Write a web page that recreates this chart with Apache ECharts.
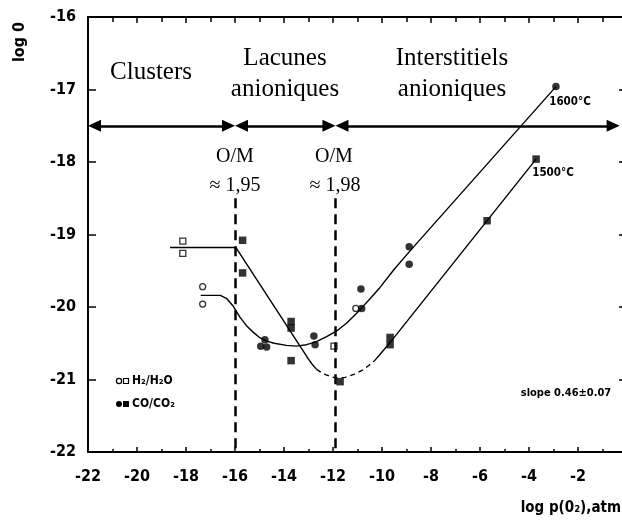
<!DOCTYPE html>
<html><head><meta charset="utf-8">
<script src="https://cdn.jsdelivr.net/npm/echarts/dist/echarts.min.js"></script>
<style>html,body{margin:0;padding:0;background:#fff}#c{width:622px;height:520px}</style>
</head><body><div id="c"></div>
<script>
// ---- data ----
const xMin = -22, xMax = 0, yMin = -22, yMax = -16;
const curve1500SolidA = [[-18.65,-19.18],[-15.96,-19.18],[-13.0,-20.72],[-12.85,-20.79],[-12.67,-20.86]];
const curve1500Dashed = [[-12.67,-20.86],[-12.4,-20.92],[-12.1,-20.96],[-11.85,-20.98],[-11.5,-20.97],[-11.15,-20.93],[-10.8,-20.87],[-10.55,-20.81],[-10.3,-20.74]];
const curve1500SolidB = [[-10.3,-20.74],[-10.0,-20.62],[-9.6,-20.46],[-3.71,-17.96]];
const curve1600 = [[-17.4,-19.84],[-16.6,-19.84],[-16.35,-19.88],[-16.07,-19.99],[-15.8,-20.14],[-15.5,-20.27],[-15.25,-20.35],[-15.0,-20.42],[-14.71,-20.47],[-14.4,-20.5],[-13.9,-20.53],[-13.5,-20.54],[-13.08,-20.52],[-12.7,-20.48],[-12.26,-20.41],[-11.85,-20.33],[-11.44,-20.22],[-10.9,-20.04],[-10.5,-19.89],[-10.08,-19.73],[-9.5,-19.48],[-8.89,-19.24],[-2.9,-16.96]];
const h2OpenCircles = [[-17.32,-19.72],[-17.32,-19.96],[-11.07,-20.02]];
const h2OpenSquares = [[-18.13,-19.09],[-18.13,-19.26],[-11.96,-20.54]];
const coFilledCircles = [[-14.78,-20.45],[-14.95,-20.54],[-14.71,-20.55],[-12.78,-20.40],[-12.73,-20.52],[-10.83,-20.02],[-10.86,-19.75],[-8.89,-19.17],[-8.89,-19.41],[-2.9,-16.96]];
const coFilledSquares = [[-15.69,-19.08],[-15.69,-19.53],[-13.71,-20.20],[-13.71,-20.29],[-13.71,-20.74],[-11.71,-21.03],[-9.67,-20.42],[-9.67,-20.52],[-5.71,-18.81],[-3.71,-17.96]];
const regionSpans = [[-22,-16],[-16,-11.9],[-11.9,-0.3]];
const regionArrowY = -17.5;
const omBoundaries = [-16, -11.9];
const omTopY = -18.5;
const regionLabels = ['Clusters', 'Lacunes\nanioniques', 'Interstitiels\nanioniques'];
const omLabels = ['O/M', '≈ 1,95', 'O/M', '≈ 1,98'];
const curveLabels = ['1600°C', '1500°C'];
const legendLabels = ['H₂/H₂O', 'CO/CO₂'];
const xTitle = 'log p(0₂),atm';
const yTitle = 'log 0';
const slopeText = 'slope 0.46±0.07';

// ---- layout ----
const G = {left: 88, top: 17, right: -5, bottom: 68};
const pxPerX = (622 - G.left - G.right) / (xMax - xMin);
const headLen = 13;
const halfHead = headLen / 2 / pxPerX;
const cond = '"DejaVu Sans Condensed", "DejaVu Sans", sans-serif';
const serif = '"Liberation Serif", "Times New Roman", serif';
const K = '#000';

const chart = echarts.init(document.getElementById('c'), null, {renderer: 'canvas'});

const arrowData = regionSpans.map(s => [
  {coord: [s[0] + halfHead, regionArrowY]},
  {coord: [s[1] - halfHead, regionArrowY]}
]);
const dashData = omBoundaries.map(x => [{coord: [x, omTopY]}, {coord: [x, yMin]}]);

function txt(text, x, y, size, family, opts) {
  return Object.assign({
    type: 'text', x: x, y: y, silent: true,
    style: Object.assign({text: text, fontSize: size, fontFamily: family, fill: K,
      align: 'center', verticalAlign: 'middle', textAlign: 'center', textVerticalAlign: 'middle'}, (opts && opts.style) || {})
  }, (opts && opts.el) || {});
}

const graphics = [
  txt(regionLabels[0], 151, 72.5, 25, serif),
  txt(regionLabels[1], 285, 73.5, 25, serif, {style: {lineHeight: 31}}),
  txt(regionLabels[2], 452, 73.5, 25, serif, {style: {lineHeight: 31}}),
  txt(omLabels[0], 235, 157, 20, serif),
  txt(omLabels[1], 235, 186, 20, serif),
  txt(omLabels[2], 334, 157, 20, serif),
  txt(omLabels[3], 335, 186, 20, serif),
  txt(curveLabels[0], 570, 102, 11.5, cond, {style: {fontWeight: 'bold'}}),
  txt(curveLabels[1], 553, 173, 11.5, cond, {style: {fontWeight: 'bold'}}),
  txt(slopeText, 566, 393, 11, cond, {style: {fontWeight: 'bold'}}),
  txt(xTitle, 621, 508, 15, cond, {style: {fontWeight: 'bold', align: 'right', textAlign: 'right'}}),
  txt(yTitle, 20, 42, 16, cond, {style: {fontWeight: 'bold'}, el: {rotation: Math.PI / 2}}),
  txt(legendLabels[0], 132, 381, 12, cond, {style: {fontWeight: 'bold', align: 'left', textAlign: 'left'}}),
  txt(legendLabels[1], 132, 404, 12, cond, {style: {fontWeight: 'bold', align: 'left', textAlign: 'left'}}),
  {type: 'circle', shape: {cx: 119, cy: 381, r: 2.6}, style: {fill: '#fff', stroke: K, lineWidth: 1.2}},
  {type: 'rect', shape: {x: 123.5, y: 378.5, width: 5, height: 5}, style: {fill: '#fff', stroke: K, lineWidth: 1.2}},
  {type: 'circle', shape: {cx: 119, cy: 404, r: 3}, style: {fill: K}},
  {type: 'rect', shape: {x: 123, y: 401, width: 6, height: 6}, style: {fill: K}}
];

const axisLineStyle = {lineStyle: {color: K, width: 2}};
const option = {
  animation: false,
  backgroundColor: '#fff',
  grid: Object.assign({containLabel: false, outerBoundsMode: 'none'}, G),
  xAxis: [
    {type: 'value', min: xMin, max: xMax, interval: 2, position: 'bottom',
     axisLine: Object.assign({show: true, onZero: false}, axisLineStyle),
     axisTick: {show: true, inside: true, length: 5, lineStyle: {color: K, width: 1.5}},
     minorTick: {show: true, splitNumber: 2, length: 3, lineStyle: {color: K, width: 1.5}},
     splitLine: {show: false}, minorSplitLine: {show: false},
     axisLabel: {show: true, margin: 17, color: K, fontSize: 16, fontWeight: 'bold', fontFamily: cond, showMinLabel: true, showMaxLabel: true, hideOverlap: false}},
    {type: 'value', min: xMin, max: xMax, interval: 2, position: 'top',
     axisLine: Object.assign({show: true, onZero: false}, axisLineStyle),
     axisTick: {show: true, inside: true, length: 6, lineStyle: {color: K, width: 1.5}},
     minorTick: {show: true, splitNumber: 2, length: 5, lineStyle: {color: K, width: 1.5}},
     splitLine: {show: false}, axisLabel: {show: false}}
  ],
  yAxis: [
    {type: 'value', min: yMin, max: yMax, interval: 1, position: 'left',
     axisLine: Object.assign({show: true, onZero: false}, axisLineStyle),
     axisTick: {show: true, inside: true, length: 8, lineStyle: {color: K, width: 1.5}},
     splitLine: {show: false},
     axisLabel: {show: true, margin: 12, color: K, fontSize: 16, fontWeight: 'bold', fontFamily: cond, showMinLabel: true, showMaxLabel: true}},
    {type: 'value', min: yMin, max: yMax, interval: 1, position: 'right',
     axisLine: Object.assign({show: true, onZero: false}, axisLineStyle),
     axisTick: {show: true, inside: true, length: 8, lineStyle: {color: K, width: 1.5}},
     splitLine: {show: false}, axisLabel: {show: false}}
  ],
  series: [
    {type: 'line', data: curve1600, smooth: false, showSymbol: false, silent: true,
     lineStyle: {color: K, width: 1.4},
     markLine: {silent: true, animation: false, symbol: ['triangle', 'triangle'], symbolSize: [12, headLen],
       label: {show: false}, lineStyle: {color: K, width: 2.5, type: 'solid'}, emphasis: {disabled: true},
       data: arrowData}},
    {type: 'line', data: curve1500SolidA, smooth: false, showSymbol: false, silent: true,
     lineStyle: {color: K, width: 1.4},
     markLine: {silent: true, animation: false, symbol: ['none', 'none'],
       label: {show: false}, lineStyle: {color: K, width: 2.5, type: [10, 6]}, emphasis: {disabled: true},
       data: dashData}},
    {type: 'line', data: curve1500Dashed, smooth: false, showSymbol: false, silent: true,
     lineStyle: {color: K, width: 1.4, type: [5, 4]}},
    {type: 'line', data: curve1500SolidB, smooth: false, showSymbol: false, silent: true,
     lineStyle: {color: K, width: 1.4}},
    {type: 'scatter', data: h2OpenCircles, symbol: 'circle', symbolSize: 6, silent: true,
     itemStyle: {color: '#fff', borderColor: K, borderWidth: 1.3}},
    {type: 'scatter', data: h2OpenSquares, symbol: 'rect', symbolSize: 6, silent: true,
     itemStyle: {color: '#fff', borderColor: K, borderWidth: 1.3}},
    {type: 'scatter', data: coFilledCircles, symbol: 'circle', symbolSize: 7.5, silent: true,
     itemStyle: {color: K}},
    {type: 'scatter', data: coFilledSquares, symbol: 'rect', symbolSize: 7.5, silent: true,
     itemStyle: {color: K}}
  ],
  graphic: graphics
};
chart.setOption(option);
</script>
</body></html>
